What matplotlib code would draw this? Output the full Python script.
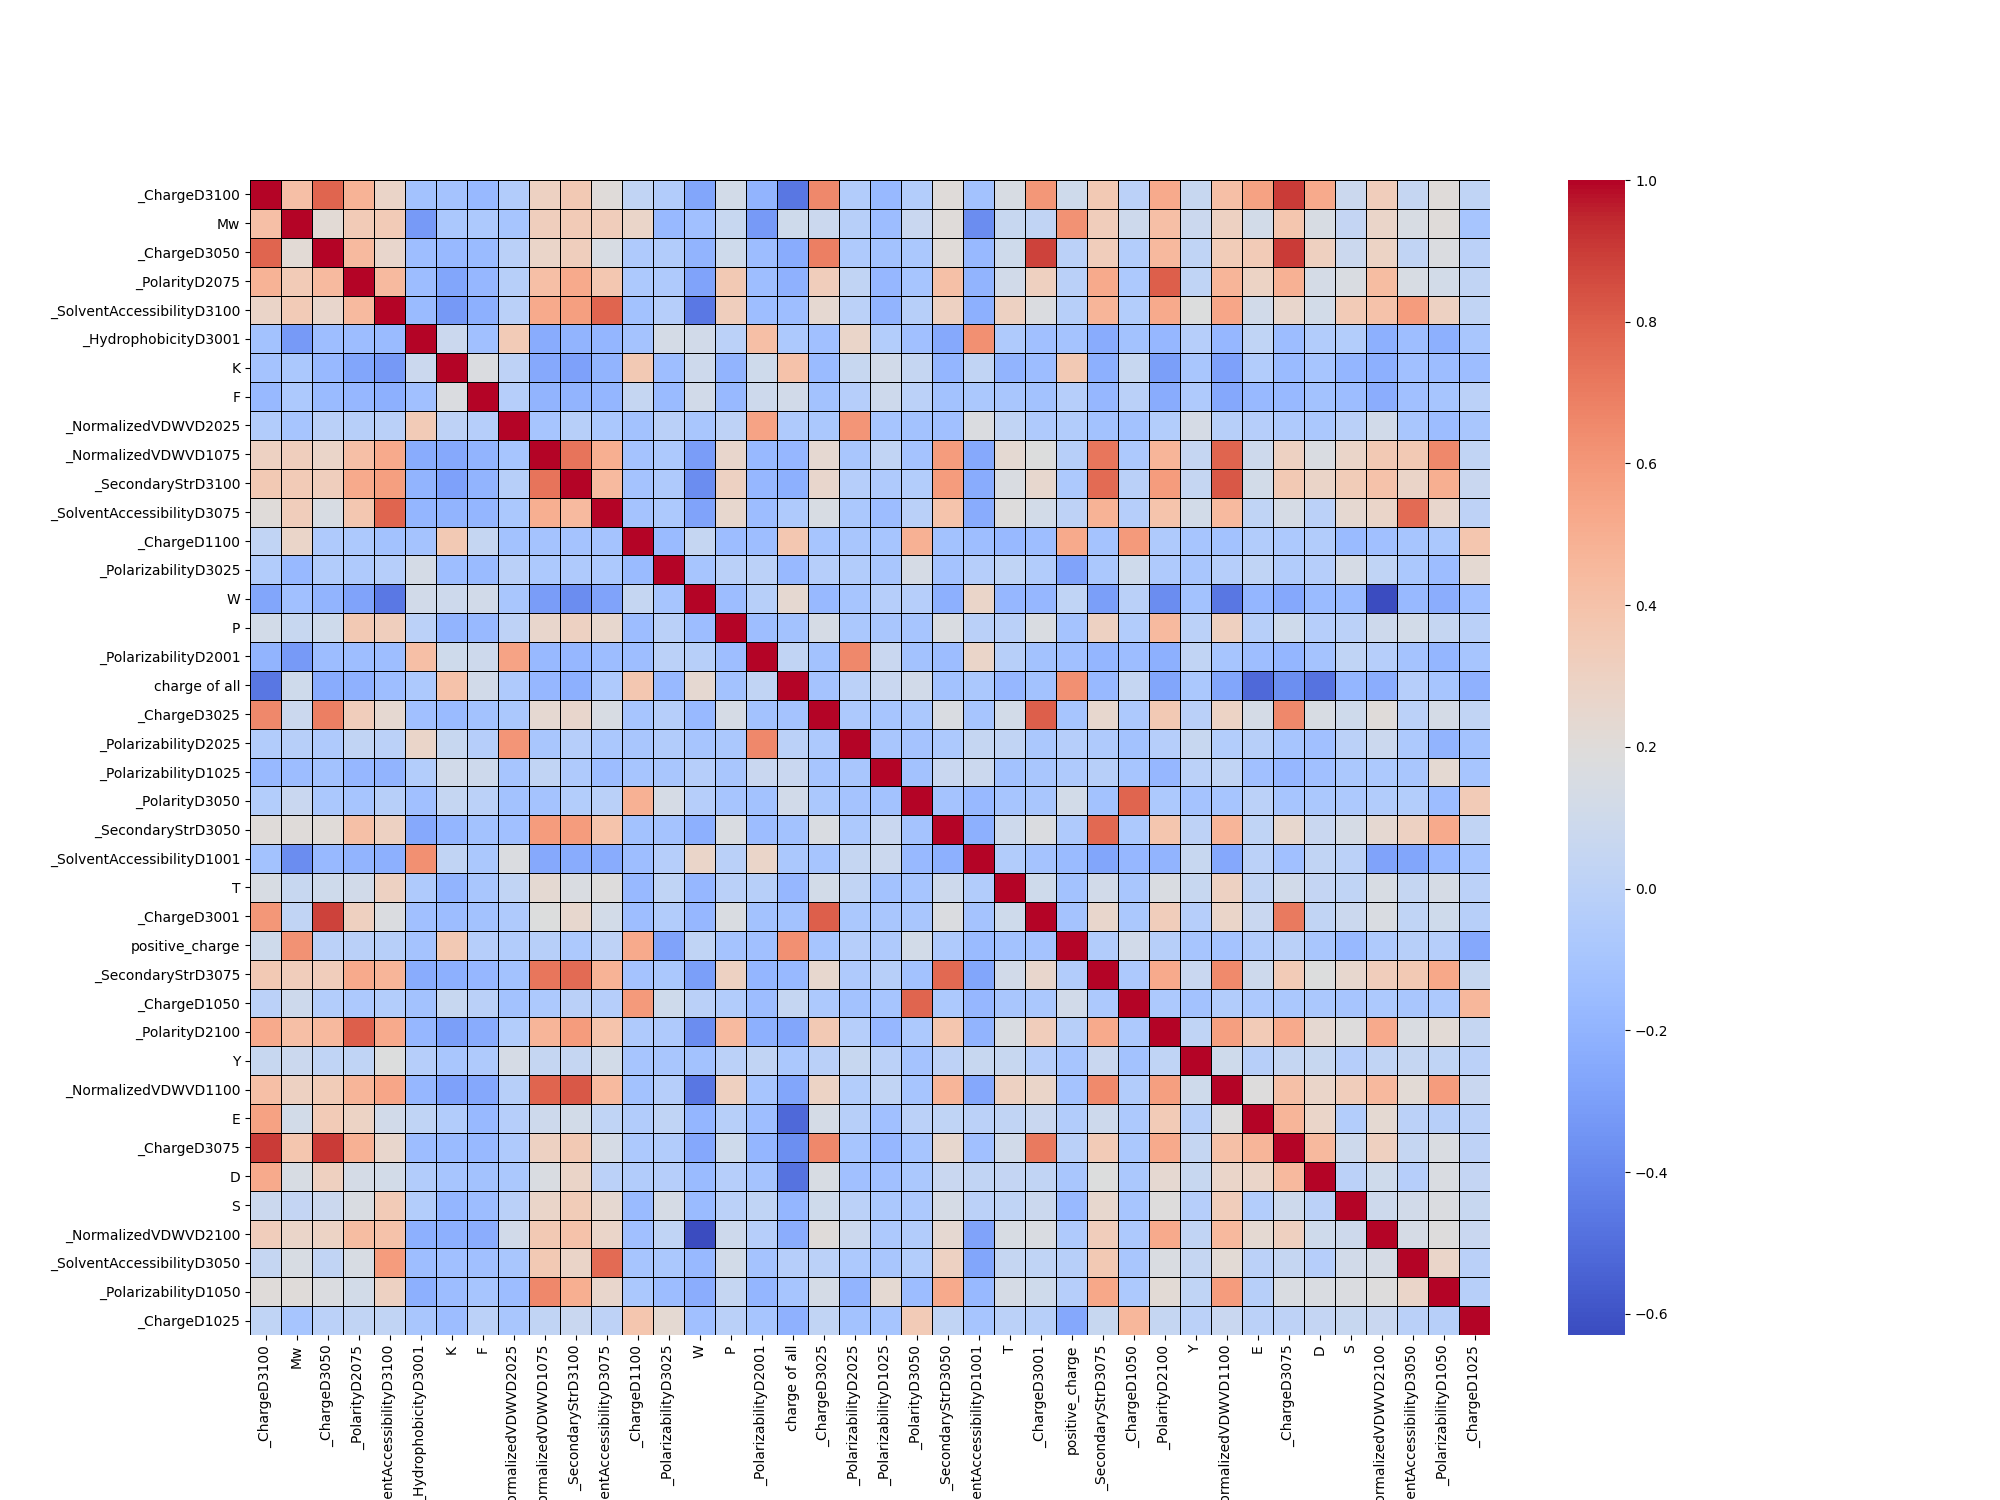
import numpy as np
import matplotlib
matplotlib.use("Agg")
import matplotlib.pyplot as plt

labels = ["_ChargeD3100", "Mw", "_ChargeD3050", "_PolarityD2075", "_SolventAccessibilityD3100",
          "_HydrophobicityD3001", "K", "F", "_NormalizedVDWVD2025", "_NormalizedVDWVD1075",
          "_SecondaryStrD3100", "_SolventAccessibilityD3075", "_ChargeD1100", "_PolarizabilityD3025",
          "W", "P", "_PolarizabilityD2001", "charge of all", "_ChargeD3025", "_PolarizabilityD2025",
          "_PolarizabilityD1025", "_PolarityD3050", "_SecondaryStrD3050", "_SolventAccessibilityD1001",
          "T", "_ChargeD3001", "positive_charge", "_SecondaryStrD3075", "_ChargeD1050", "_PolarityD2100",
          "Y", "_NormalizedVDWVD1100", "E", "_ChargeD3075", "D", "S", "_NormalizedVDWVD2100",
          "_SolventAccessibilityD3050", "_PolarizabilityD1050", "_ChargeD1025"]

# Upper triangle of the correlation matrix, one list per row (values right of the diagonal)
r01 = [.42,.78,.48,.28,-.12,-.11,-.17,-.05,.3,.36,.2,.03,-.05,-.27,.12,-.2,-.47,.66,-.05,
       -.17,-.04,.2,-.12,.15,.6,.1,.36,0,.52,.06,.42,.56,.9,.52,.08,.33,.05,.2,.02]
r02 = [.22,.35,.35,-.32,-.08,-.07,-.1,.32,.35,.33,.27,-.17,-.13,.06,-.32,.1,.08,-.02,
       -.15,.07,.2,-.38,.06,.03,.62,.33,.09,.42,.08,.3,.12,.38,.15,.04,.27,.15,.2,-.1]
r03 = [.44,.26,-.14,-.17,-.16,-.01,.27,.32,.15,-.06,-.05,-.2,.1,-.15,-.24,.69,-.06,
       -.12,-.08,.21,-.17,.1,.88,0,.33,-.04,.45,.02,.34,.35,.9,.31,.08,.29,.03,.17,0]
r04 = [.44,-.15,-.27,-.18,-.02,.42,.52,.37,-.07,-.06,-.28,.36,-.14,-.21,.33,.03,
       -.18,-.1,.41,-.2,.11,.31,-.01,.52,-.07,.8,.02,.47,.29,.49,.13,.16,.43,.15,.12,.03]
r05 = [-.16,-.33,-.22,-.01,.52,.57,.78,-.12,-.03,-.46,.32,-.14,-.14,.24,0,
       -.2,-.02,.3,-.22,.3,.17,-.02,.47,-.04,.52,.18,.54,.11,.26,.12,.35,.4,.58,.3,.03]
r06 = [.08,-.13,.35,-.24,-.2,-.19,-.11,.13,.11,0,.42,-.07,-.13,.27,
       -.04,-.13,-.25,.63,-.06,-.13,-.11,-.24,-.12,-.18,-.03,-.18,.02,-.15,-.05,-.04,-.22,-.14,-.22,-.09]
r07 = [.17,.01,-.25,-.29,-.2,.36,-.14,.09,-.2,.1,.4,-.16,.06,
       .11,.05,-.19,.03,-.2,-.15,.36,-.22,.06,-.3,-.09,-.29,-.05,-.16,-.1,-.19,-.22,-.13,-.15,-.15]
r08 = [-.03,-.2,-.2,-.19,.05,-.16,.11,-.17,.09,.11,-.12,-.03,
       .09,0,-.12,-.08,-.09,-.12,-.03,-.18,-.01,-.24,-.06,-.26,-.17,-.17,-.12,-.15,-.23,-.13,-.1,0]
r09 = [-.1,-.02,-.08,-.12,-.01,-.09,.01,.55,-.06,-.08,.61,
       -.1,-.12,-.13,.17,.03,-.06,-.05,-.12,-.12,-.04,.14,-.02,-.03,-.06,-.08,-.01,.11,-.09,-.15,-.09]
r10 = [.73,.5,-.11,-.07,-.31,.26,-.17,-.18,.24,-.09,
       .03,-.11,.58,-.25,.23,.18,-.02,.72,-.07,.47,.05,.78,.09,.3,.16,.27,.36,.36,.66,.03]
r11 = [.44,-.11,-.06,-.38,.3,-.18,-.22,.26,-.03,
       -.06,-.04,.58,-.24,.16,.25,-.07,.76,-.01,.58,.05,.82,.12,.36,.28,.34,.4,.28,.5,.07]
r12 = [-.11,-.07,-.28,.25,-.15,-.06,.15,-.08,
       -.15,-.01,.39,-.24,.19,.12,.01,.48,-.03,.39,.12,.44,.02,.14,0,.24,.27,.76,.26,.01]
r13 = [-.16,.05,-.15,-.14,.37,-.1,-.09,
       -.1,.49,-.12,-.14,-.17,-.14,.52,-.11,.59,-.06,-.1,-.12,-.05,-.07,-.05,-.16,-.13,-.1,-.08,.38]
r14 = [-.1,-.01,0,-.17,-.03,-.05,
       -.09,.14,-.11,-.03,.02,-.05,-.28,-.08,.1,-.06,-.09,-.03,.02,-.05,-.03,.14,.02,-.08,-.15,.23]
r15 = [-.15,-.02,.24,-.17,-.1,
       -.03,-.03,-.22,.27,-.18,-.18,.02,-.3,-.01,-.38,-.12,-.47,-.19,-.26,-.16,-.16,-.63,-.17,-.23,-.13]
r16 = [-.14,-.12,.14,-.08,
       -.09,-.1,.16,-.01,-.01,.16,-.11,.3,-.05,.44,0,.31,-.02,.1,-.03,0,.09,.12,.05,-.01]
r17 = [.03,-.12,.66,
       .07,-.12,-.15,.27,-.02,-.12,-.13,-.19,-.15,-.22,.03,-.1,-.14,-.19,-.11,.02,-.03,-.11,-.19,-.1]
r18 = [-.11,0,
       .07,.11,-.12,-.08,-.18,-.12,.63,-.17,.05,-.27,-.08,-.27,-.52,-.37,-.48,-.19,-.23,-.03,-.1,-.21]
r19 = [-.07,
       -.1,-.08,.16,-.1,.12,.8,-.1,.25,-.07,.36,-.01,.29,.13,.66,.15,.1,.2,0,.13,.03]
r20 = [-.09,-.11,-.07,.05,.03,-.08,-.03,-.06,-.12,-.03,.06,-.04,-.02,-.1,-.13,0,.08,-.07,-.2,-.12]
r21 = [-.12,.07,.08,-.12,-.09,-.06,-.02,-.1,-.18,0,.03,-.13,-.18,-.13,-.08,-.07,-.09,.23,-.1]
r22 = [-.11,-.17,-.1,-.09,.12,-.12,.78,-.07,-.11,-.1,0,-.1,-.08,-.07,-.05,-.04,-.15,.35]
r23 = [-.22,.09,.17,-.06,.77,-.07,.38,.01,.47,.02,.25,.07,.14,.24,.3,.52,.03]
r24 = [-.05,-.11,-.16,-.27,-.18,-.2,.06,-.26,0,-.13,.03,0,-.28,-.27,-.17,-.1]
r25 = [.1,-.12,.11,-.09,.16,.06,.3,.03,.11,.04,.02,.15,.05,.14,0]
r26 = [-.11,.26,-.08,.33,-.03,.27,.07,.71,.03,.08,.16,.02,.1,-.02]
r27 = [-.05,.11,-.02,-.1,-.11,-.05,-.01,-.09,-.17,-.06,-.02,-.03,-.26]
r28 = [-.07,.52,.07,.65,.09,.35,.18,.25,.33,.36,.53,.06]
r29 = [-.07,-.12,-.05,-.07,-.08,-.08,-.1,-.07,-.09,-.07,.46]
r30 = [.02,.57,.35,.52,.24,.19,.52,.16,.22,.05]
r31 = [.1,-.02,.05,.06,-.03,.03,.05,.02,0]
r32 = [.19,.41,.27,.33,.45,.22,.58,.07]
r33 = [.47,.27,-.04,.23,0,-.02,0]
r34 = [.45,.09,.31,.05,.16,.01]
r35 = [0,.1,-.03,.16,.04]
r36 = [.09,.11,.17,.06]
r37 = [.14,.19,.07]
r38 = [.27,-.01]
r39 = [-.02]

upper_rows = [r01,r02,r03,r04,r05,r06,r07,r08,r09,r10,r11,r12,r13,r14,r15,r16,r17,r18,r19,r20,
              r21,r22,r23,r24,r25,r26,r27,r28,r29,r30,r31,r32,r33,r34,r35,r36,r37,r38,r39]

n = len(labels)
corr = np.eye(n)
for i, row in enumerate(upper_rows):
    assert len(row) == n - i - 1, (i + 1, len(row))
    corr[i, i + 1:] = row
    corr[i + 1:, i] = row

fig, ax = plt.subplots(figsize=(20, 15), dpi=100)
mesh = ax.pcolormesh(corr, cmap="coolwarm", vmin=corr.min(), vmax=corr.max(),
                     edgecolors="black", linewidth=0.5)
ax.set_xlim(0, n)
ax.set_ylim(n, 0)
pos = np.arange(n) + 0.5
ax.set_xticks(pos)
ax.set_xticklabels(labels, rotation=90)
ax.set_yticks(pos)
ax.set_yticklabels(labels, rotation=0)
for s in ax.spines.values():
    s.set_visible(False)

cbar = fig.colorbar(mesh, ax=ax)
cbar.outline.set_linewidth(0)
cbar.set_ticks(np.arange(-0.6, 1.01, 0.2))

fig.savefig("out.png", dpi=100)
